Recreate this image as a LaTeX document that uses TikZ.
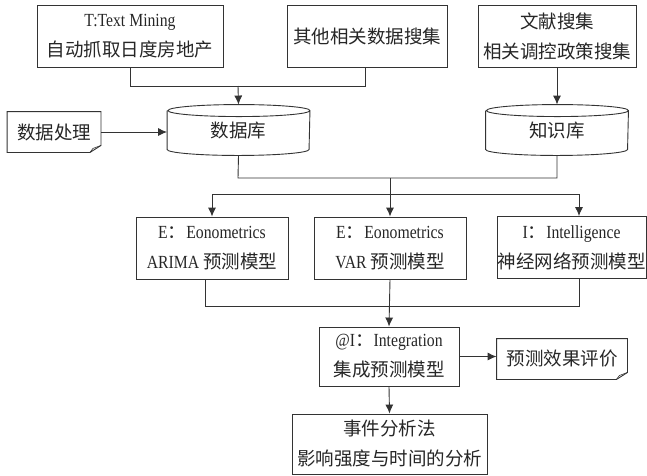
\documentclass[tikz,border=0pt]{standalone}
\usepackage{fontspec}
\setmainfont{Liberation Serif}[FakeStretch=0.85]
\newfontfamily\cjk{Noto Sans CJK SC}
\usetikzlibrary{arrows.meta,calc}
\begin{document}
\begin{tikzpicture}[x=1pt,y=1pt,
  line width=0.9pt,
  every node/.style={font=\fontsize{18.5}{30}\selectfont, text=black!85, align=center, inner sep=0pt},
  box/.style={draw=black!80, rectangle, minimum height=62pt},
  plain/.style={rectangle},
  conn/.style={draw=black!80},
  arr/.style={draw=black!80, -{Latex[length=9pt,width=8pt]}}]
\useasboundingbox (0,0) rectangle (647,-475);

% top row
\node[box, minimum width=186pt] (b1) at (130,-36) {T:Text Mining\\{\cjk 自动抓取日度房地产}};
\node[box, minimum width=160pt] (b2) at (367,-36) {{\cjk 其他相关数据搜集}};
\node[box, minimum width=158pt] (b3) at (557,-36) {{\cjk 文献搜集}\\{\cjk 相关调控政策搜集}};

% databases
\node[plain, minimum width=142pt, minimum height=50pt] (db) at (238.5,-130) {{\cjk 数据库}};
\node[plain, minimum width=142pt, minimum height=50pt] (kb) at (557,-130) {{\cjk 知识库}};
\foreach \n in {db,kb}{
  \draw[conn] ([yshift=-6pt]\n.north west) -- ([yshift=6pt]\n.south west)
    arc[start angle=180,end angle=360,x radius=71pt,y radius=6pt]
    -- ([yshift=-6pt]\n.north east)
    arc[start angle=0,end angle=180,x radius=71pt,y radius=6pt]
    arc[start angle=180,end angle=360,x radius=71pt,y radius=6pt];
}

% document shapes
\node[plain, minimum width=93pt, minimum height=40pt] (dp) at (54,-132) {{\cjk 数据处理}};
\node[plain, minimum width=130pt, minimum height=40pt] (ev) at (562,-359) {{\cjk 预测效果评价}};
\foreach \n in {dp,ev}{
  \draw[conn] (\n.north west) -- (\n.north east) -- ([yshift=7pt]\n.south east)
    -- ([xshift=-11pt]\n.south east) -- (\n.south west) -- cycle;
  \draw[conn, line width=0.6pt] ([yshift=7pt]\n.south east) -- ([xshift=-8pt,yshift=4pt]\n.south east) -- ([xshift=-11pt]\n.south east);
}

% models
\node[box, minimum width=152pt] (b4) at (212,-248) {E{\cjk ：}Eonometrics\\ARIMA {\cjk 预测模型}};
\node[box, minimum width=152pt] (b5) at (390,-248) {E{\cjk ：}Eonometrics\\VAR {\cjk 预测模型}};
\node[box, minimum width=149pt] (b6) at (571.5,-247.5) {I{\cjk ：}Intelligence\\{\cjk 神经网络预测模型}};

% integration
\node[box, minimum width=140pt, minimum height=59pt] (b7) at (389,-356.5) {@I{\cjk ：}Integration\\{\cjk 集成预测模型}};
\node[box, minimum width=195pt, minimum height=60pt] (b9) at (389.5,-444) {{\cjk 事件分析法}\\{\cjk 影响强度与时间的分析}};

% coordinates
\coordinate (j1) at (238,-86);
\coordinate (j1r) at (365,-86);
\coordinate (j2) at (238,-178);
\coordinate (j2r) at (557,-178);
\coordinate (jc) at (390,-178);
\coordinate (h1) at (212,-194);
\coordinate (h2) at (579,-194);
\coordinate (g1) at (205,-306);
\coordinate (g2) at (579,-306);

% connectors top
\draw[conn] (b1.south) -- (b1.south |- j1) -- (j1r) -- (j1r |- b2.south);
\draw[arr] (j1) -- (db.north);
\draw[arr] (dp.east) -- (dp.east -| db.west);
\draw[arr] (b3.south) -- (kb.north);
\draw[conn] (db.south) -- (j2) -- (j2r) -- (kb.south);
\draw[arr] (jc) -- (b5.north);
\draw[conn] (h1) -- (h2);
\draw[arr] (h1) -- (b4.north);
\draw[arr] (h2) -- (h2 |- b6.north);

% connectors bottom
\draw[conn] (g1 |- b4.south) -- (g1) -- (g2) -- (g2 |- b6.south);
\draw[arr] (b5.south) -- (b7.north);
\draw[arr] (b7.east) -- (b7.east -| ev.west);
\draw[arr] (b7.south) -- (b9.north);
\end{tikzpicture}
\end{document}
